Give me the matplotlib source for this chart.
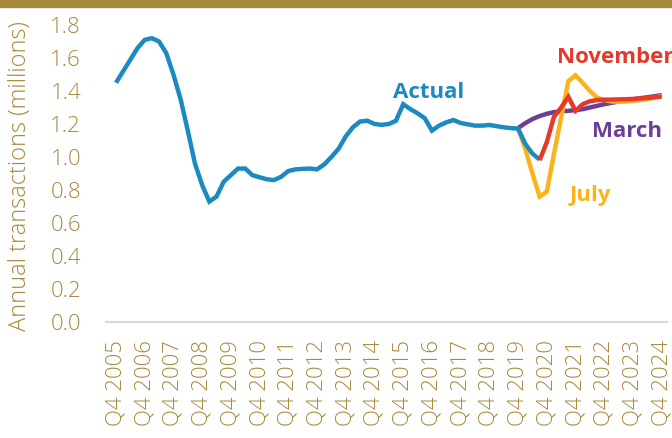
import matplotlib
matplotlib.use("Agg")
import matplotlib.pyplot as plt
from matplotlib.transforms import ScaledTranslation
from matplotlib.patches import Rectangle

# ---------------- data ----------------
tick_labels = ["Q4 2005", "Q4 2006", "Q4 2007", "Q4 2008", "Q4 2009", "Q4 2010",
               "Q4 2011", "Q4 2012", "Q4 2013", "Q4 2014", "Q4 2015", "Q4 2016",
               "Q4 2017", "Q4 2018", "Q4 2019", "Q4 2020", "Q4 2021", "Q4 2022",
               "Q4 2023", "Q4 2024"]

# quarterly values starting Q4 2005
actual = [1.45, 1.52, 1.59, 1.66, 1.71, 1.72, 1.70, 1.63, 1.50, 1.35,
          1.16, 0.96, 0.83, 0.73, 0.76, 0.85, 0.89, 0.93, 0.93, 0.89,
          0.877, 0.865, 0.86, 0.88, 0.915, 0.925, 0.928, 0.93, 0.925, 0.955,
          1.00, 1.05, 1.125, 1.18, 1.215, 1.22, 1.20, 1.195, 1.20, 1.22,
          1.32, 1.29, 1.265, 1.235, 1.16, 1.19, 1.21, 1.224, 1.206, 1.198,
          1.19, 1.19, 1.194, 1.187, 1.18, 1.175, 1.172, 1.08, 1.02, 0.985]

# forecasts starting Q4 2019 (March, July) and Q3 2020 (November)
march = [1.175, 1.205, 1.23, 1.248, 1.262, 1.272, 1.277, 1.28, 1.284, 1.29,
         1.30, 1.31, 1.32, 1.328, 1.336, 1.343, 1.35, 1.356, 1.362, 1.368, 1.375]
july = [1.172, 1.05, 0.90, 0.76, 0.79, 1.02, 1.24, 1.46, 1.495, 1.45,
        1.40, 1.36, 1.345, 1.337, 1.335, 1.336, 1.34, 1.345, 1.35, 1.36, 1.37]
november = [0.98, 1.09, 1.244, 1.30, 1.365, 1.28, 1.32, 1.338, 1.345, 1.347,
            1.348, 1.349, 1.35, 1.352, 1.355, 1.358, 1.362, 1.366]

march_start = 56
july_start = 56
november_start = 59

# ---------------- style ----------------
GOLD = "#A68A3C"
BLUE = "#1C8AC0"
RED = "#E53A2B"
YELLOW = "#FBB31C"
PURPLE = "#6B3F98"
FONT = "Open Sans"

plt.rcParams["font.family"] = [FONT, "DejaVu Sans"]

fig = plt.figure(figsize=(6.72, 4.38), dpi=100)
W, H = 672, 438
ax = fig.add_axes([106 / W, 1 - 322 / H, 561 / W, 297 / H])

fig.patches.append(Rectangle((0, 1 - 7 / H), 1, 7 / H, transform=fig.transFigure,
                             color=GOLD, zorder=10))

lw = 3.2
ax.plot(range(march_start, march_start + len(march)), march, color=PURPLE, lw=lw,
        zorder=1, solid_capstyle="butt", solid_joinstyle="miter")
ax.plot(range(july_start, july_start + len(july)), july, color=YELLOW, lw=lw,
        zorder=2, solid_capstyle="butt", solid_joinstyle="miter")
ax.plot(range(len(actual)), actual, color=BLUE, lw=lw, zorder=3,
        solid_capstyle="butt", solid_joinstyle="miter")
ax.plot(range(november_start, november_start + len(november)), november, color=RED,
        lw=lw, zorder=4, solid_capstyle="butt", solid_joinstyle="miter")

ax.set_xlim(-1.39, 76.74)
ax.set_ylim(0, 1.8)

ax.set_xticks(range(0, 4 * len(tick_labels), 4))
ax.set_xticklabels(tick_labels, rotation=90, fontsize=16, color=GOLD, va="top",
                   ha="center", fontweight="light")
off = ScaledTranslation(-5 / 100, 0, fig.dpi_scale_trans)
for lab in ax.get_xticklabels():
    lab.set_transform(lab.get_transform() + off)

yt = [0.0, 0.2, 0.4, 0.6, 0.8, 1.0, 1.2, 1.4, 1.6, 1.8]
ax.set_yticks(yt)
ax.set_yticklabels([f"{v:.1f}" for v in yt], fontsize=16, color=GOLD,
                   fontweight="light")
ax.tick_params(axis="x", length=0, pad=13)
ax.tick_params(axis="y", length=0, pad=18)

for s in ["top", "right", "left"]:
    ax.spines[s].set_visible(False)
ax.spines["bottom"].set_color("#D9D9D9")
ax.spines["bottom"].set_linewidth(1.5)

fig.text(20 / W, 1 - 176 / H, "Annual transactions (millions)", rotation=90,
         ha="center", va="center", fontsize=17, color=GOLD, fontweight="light")

lab_kw = dict(fontsize=16, fontweight="bold", va="baseline")
ax.text(43.6, 1.355, "Actual", color=BLUE, ha="center", **lab_kw)
ax.text(61.4, 1.567, "November", color=RED, ha="left", clip_on=False, **lab_kw)
ax.text(71.2, 1.123, "March", color=PURPLE, ha="center", **lab_kw)
ax.text(66.0, 0.733, "July", color=YELLOW, ha="center", **lab_kw)

fig.savefig("out.png", dpi=100)
